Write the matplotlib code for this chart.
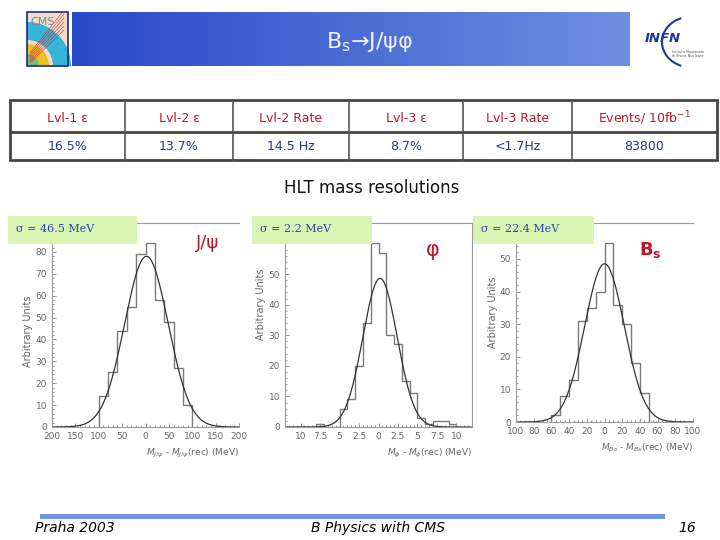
import matplotlib.pyplot as plt
import numpy as np
from matplotlib import patches
from matplotlib.ticker import FuncFormatter, MultipleLocator

W, H = 720, 540

# trigger summary table
table_headers = ["Lvl-1 ε", "Lvl-2 ε", "Lvl-2 Rate", "Lvl-3 ε", "Lvl-3 Rate", "Events/ 10fb$^{-1}$"]
table_values = ["16.5%", "13.7%", "14.5 Hz", "8.7%", "<1.7Hz", "83800"]
table_cols = [10, 125, 233, 349, 463, 572, 717]

# J/psi mass residual (MeV), 20 MeV bins
jpsi_edges = [-100, -80, -60, -40, -20, 0, 20, 40, 60, 80, 100]
jpsi_counts = [14, 25, 44, 55, 79, 84, 58, 48, 27, 10]
jpsi_fit = (78.0, 2.0, 46.5)   # peak, mean, sigma
jpsi_yticks = [0, 10, 20, 30, 40, 50, 60, 70, 80]

# phi mass residual (MeV), 1 MeV bins
phi_edges = [-8, -7, -6, -5, -4, -3, -2, -1, 0, 1, 2, 3, 4, 5, 6, 7, 8, 9, 10]
phi_counts = [1, 0, 0, 6, 9, 20, 34, 60, 57, 30, 27, 15, 11, 3, 1, 2, 2, 1]
phi_fit = (48.6, 0.2, 2.2)
phi_yticks = [0, 10, 20, 30, 40, 50]

# Bs mass residual (MeV), 10 MeV bins
bs_edges = [-60, -50, -40, -30, -20, -10, 0, 10, 20, 30, 40, 50, 60]
bs_counts = [2, 8, 13, 31, 35, 40, 55, 36, 30, 18, 9, 0]
bs_fit = (48.5, 0.0, 22.4)
bs_yticks = [0, 10, 20, 30, 40, 50]

RED = "#c0142c"
NAVY = "#1f3a93"
GRAY = "#666666"

fig = plt.figure(figsize=(7.2, 5.4), dpi=100)
fig.patch.set_facecolor("white")


def px_axes(x0, y0, x1, y1, **kw):
    return fig.add_axes([x0 / W, 1 - y1 / H, (x1 - x0) / W, (y1 - y0) / H], **kw)


def hist_panel(box, edges, counts, fit, xlim, ylim, xmaj, xmin, yticks, xlabel, right_spine=False):
    ax = px_axes(*box, zorder=1)
    ax.stairs(counts, edges, color="#7a7a7a", lw=1.0)
    peak, mean, sigma = fit
    xs = np.linspace(xlim[0], xlim[1], 400)
    ax.plot(xs, peak * np.exp(-0.5 * ((xs - mean) / sigma) ** 2), color="#333333", lw=0.9)
    ax.set_xlim(*xlim)
    ax.set_ylim(*ylim)
    ax.xaxis.set_major_locator(MultipleLocator(xmaj))
    ax.xaxis.set_minor_locator(MultipleLocator(xmin))
    ax.set_yticks(yticks)
    ax.yaxis.set_minor_locator(MultipleLocator(2))
    ax.xaxis.set_major_formatter(FuncFormatter(lambda v, p: f"{abs(v):g}"))
    ax.tick_params(which="both", direction="in", colors="#888888", labelcolor=GRAY,
                   labelsize=6.5, length=3, width=0.6)
    ax.tick_params(which="minor", length=1.5)
    for sp in ax.spines.values():
        sp.set_color("#9a9a9a")
        sp.set_linewidth(0.8)
    ax.spines["right"].set_visible(right_spine)
    ax.set_ylabel("Arbitrary Units", color=GRAY, fontsize=7)
    ax.set_xlabel(xlabel, color=GRAY, fontsize=6.5, loc="right")
    ax.patch.set_alpha(0)
    return ax


a1 = hist_panel((52, 223, 239, 427), jpsi_edges, jpsi_counts, jpsi_fit, (-200, 200), (0, 93.2),
                50, 10, jpsi_yticks, r"$M_{J/\psi}$ - $M_{J/\psi}$(rec) (MeV)")
a1.yaxis.set_label_coords(-0.1, 0.47)
a2 = hist_panel((285, 223, 472, 427), phi_edges, phi_counts, phi_fit, (-12, 12), (0, 66.7),
                2.5, 0.5, phi_yticks, r"$M_{\phi}$ - $M_{\phi}$(rec) (MeV)", right_spine=True)
a2.yaxis.set_label_coords(-0.1, 0.6)
a3 = hist_panel((516, 223, 693, 422), bs_edges, bs_counts, bs_fit, (-100, 100), (0, 61),
                20, 5, bs_yticks, r"$M_{Bs}$ - $M_{Bs}$(rec) (MeV)")
a3.yaxis.set_label_coords(-0.1, 0.55)

# overlay in pixel coordinates for the slide decorations
ov = fig.add_axes([0, 0, 1, 1], zorder=5)
ov.patch.set_alpha(0)

# header bar with gradient
t = np.linspace(0, 1, 256)
left = np.array([0.16, 0.29, 0.79])
right = np.array([0.43, 0.56, 0.88])
grad = left[None, None, :] * (1 - t)[None, :, None] + right[None, None, :] * t[None, :, None]
ov.imshow(grad, extent=(72, 630, 66, 12), aspect="auto", zorder=1)
ov.text(370, 42, r"B$_\mathregular{s}$→J/ψφ", color="#eef2ff", fontsize=16, ha="center", va="center", zorder=3)

# CMS logo (stylised)
clip = patches.Rectangle((27, 12), 41, 54, transform=ov.transData)
ov.add_patch(patches.Rectangle((27, 12), 41, 54, facecolor="#f4dccb", edgecolor="none", zorder=2))
for r, c in [(44, "#38b4d8"), (26, "#f4dccb"), (22, "#f0c020"), (12, "#6cc070")]:
    w = patches.Wedge((27, 66), r, 270, 360, facecolor=c, edgecolor="none", zorder=2)
    w.set_clip_path(clip)
    ov.add_patch(w)
for k in range(6):
    ln, = ov.plot([30, 64], [63 - k * 2, 30 - k * 4], color="#d03030", lw=0.4, zorder=2)
    ln.set_clip_path(clip)
ov.add_patch(patches.Rectangle((27, 12), 41, 54, facecolor="none", edgecolor="#1a2a80", lw=1.2, zorder=3))
ov.text(30, 22, "CMS", color="#7088a8", fontsize=8, ha="left", va="center", zorder=3)

# INFN logo (stylised)
ov.add_patch(patches.Arc((690, 42), 56, 50, theta1=110, theta2=250, color="#1a3a9a", lw=1.5))
ov.text(663, 38, "INFN", color="#1a3a9a", fontsize=9.5, fontweight="bold", style="italic", ha="center", va="center")
ov.text(672, 54, "Istituto Nazionale\ndi Fisica Nucleare", color="#555555", fontsize=2.6, ha="left", va="center",
        linespacing=1.2)

# table
top, mid, bot = 100, 132, 160
ov.add_patch(patches.Rectangle((table_cols[0], top), table_cols[-1] - table_cols[0], bot - top,
                               facecolor="white", edgecolor="#444444", lw=2, zorder=2))
ov.plot([table_cols[0], table_cols[-1]], [mid, mid], color="#444444", lw=2, zorder=3)
for x in table_cols[1:-1]:
    ov.plot([x, x], [top, bot], color="#555555", lw=1.2, zorder=3)
for i, (hd, val) in enumerate(zip(table_headers, table_values)):
    cx = (table_cols[i] + table_cols[i + 1]) / 2
    ov.text(cx, 118, hd, color=RED, fontsize=9, ha="center", va="center", zorder=4)
    ov.text(cx, 146, val, color=NAVY, fontsize=9, ha="center", va="center", zorder=4)

ov.text(372, 188, "HLT mass resolutions", color="#111111", fontsize=12, ha="center", va="center")

# resolution labels
for (x0, x1), lab in [((8, 137), "σ = 46.5 MeV"), ((252, 372), "σ = 2.2 MeV"), ((473, 594), "σ = 22.4 MeV")]:
    ov.add_patch(patches.Rectangle((x0, 216), x1 - x0, 28, facecolor="#d9f5b4", edgecolor="none", zorder=2))
    ov.text(x0 + 8, 229, lab, color="#2a44b0", fontsize=8, family="DejaVu Serif",
            ha="left", va="center", zorder=3)

ov.text(208, 243, "J/ψ", color=RED, fontsize=13, ha="center", va="center")
ov.text(433, 250, "φ", color=RED, fontsize=15, ha="center", va="center")
ov.text(650, 250, r"B$_\mathregular{s}$", color=RED, fontsize=13, fontweight="bold", ha="center", va="center")

# footer
ov.add_patch(patches.Rectangle((40, 514), 625, 5, facecolor="#7095e6", edgecolor="none"))
ov.text(75, 528, "Praha 2003", fontsize=10, style="italic", ha="center", va="center")
ov.text(378, 528, "B Physics with CMS", fontsize=10, style="italic", ha="center", va="center")
ov.text(687, 528, "16", fontsize=10, style="italic", ha="center", va="center")

ov.set_xlim(0, W)
ov.set_ylim(H, 0)
ov.axis("off")

fig.savefig("out.png", dpi=100)
